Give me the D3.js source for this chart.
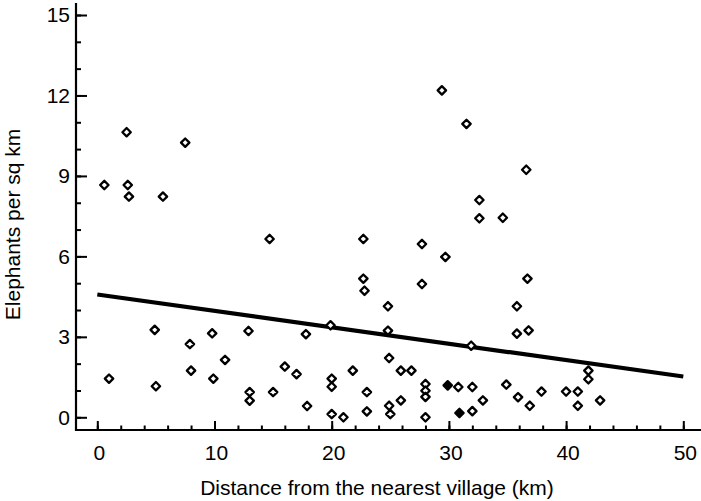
<!DOCTYPE html>
<html>
<head>
<meta charset="utf-8">
<script src="https://cdn.jsdelivr.net/npm/d3@7"></script>
<style>
  html, body { margin: 0; padding: 0; background: #fff; }
  svg { display: block; font-family: "Liberation Sans", Arial, sans-serif; }
</style>
</head>
<body>
<svg id="chart" width="701" height="501"></svg>
<script>
// ---- data ----
const distanceKm = [
  2.5, 7.5, 0.6, 2.6, 2.7, 5.6,
  29.4, 31.5, 36.6, 32.6, 32.6, 34.6,
  1.0, 4.9, 5.0, 7.9, 8.0, 9.8, 9.9, 10.9, 12.9, 13.0, 13.0, 14.7,
  15.0, 16.0, 17.0, 17.8, 17.9, 19.9, 20.0, 20.0, 20.0, 21.0, 21.8,
  22.7, 22.7, 22.8, 23.0, 23.0, 24.8, 24.8, 24.9, 24.9, 25.0,
  27.7, 29.7, 27.7, 25.9, 26.8, 25.9, 28.0, 28.0, 28.0, 28.0,
  30.8, 32.0, 32.0, 31.9, 32.9, 34.9, 35.8, 35.8, 36.8, 36.7,
  35.9, 36.9, 37.9, 40.0, 41.0, 41.0, 41.9, 41.9, 42.9
];
const elephantsPerSqKm = [
  10.63, 10.24, 8.66, 8.66, 8.23, 8.23,
  12.19, 10.94, 9.23, 8.10, 7.42, 7.44,
  1.44, 3.26, 1.16, 2.73, 1.74, 3.13, 1.44, 2.14, 3.22, 0.94, 0.62, 6.65,
  0.94, 1.89, 1.61, 3.10, 0.42, 3.43, 1.44, 1.14, 0.12, 0.00, 1.74,
  6.65, 5.17, 4.72, 0.94, 0.22, 4.14, 3.23, 2.21, 0.43, 0.12,
  6.46, 5.98, 4.97, 1.74, 1.74, 0.63, 1.24, 0.99, 0.76, 0.00,
  1.13, 1.13, 0.23, 2.67, 0.63, 1.22, 4.14, 3.12, 3.24, 5.17,
  0.75, 0.43, 0.96, 0.96, 0.96, 0.43, 1.74, 1.42, 0.63
];
// overlapping (darkened) points
const filledDistanceKm = [29.9, 30.9];
const filledElephants = [1.19, 0.16];
// regression line end points
const fitDistanceKm = [0, 50];
const fitElephants = [4.58, 1.52];

const xMajorTicks = [0, 10, 20, 30, 40, 50];
const xMinorTicks = d3.range(0, 51, 2);
const yMajorTicks = [0, 3, 6, 9, 12, 15];
const yMinorTicks = d3.range(0, 16, 1);

const xTitle = "Distance from the nearest village (km)";
const yTitle = "Elephants per sq km";

// ---- layout ----
const svg = d3.select("#chart");
const axisX = 76, axisY = 430;
const x = d3.scaleLinear().domain([0, 50]).range([97.3, 683.3]);
const y = d3.scaleLinear().domain([0, 15]).range([417.3, 15]);

// axis lines
svg.append("line").attr("x1", axisX).attr("x2", axisX).attr("y1", 3).attr("y2", axisY + 1)
  .attr("stroke", "#000").attr("stroke-width", 2.2);
svg.append("line").attr("x1", axisX - 1).attr("x2", 701).attr("y1", axisY).attr("y2", axisY)
  .attr("stroke", "#000").attr("stroke-width", 2.2);

function styleTicks(g, w) {
  g.select(".domain").remove();
  g.selectAll(".tick line").attr("stroke", "#000").attr("stroke-width", w);
}

// y ticks (pointing inward / right)
svg.append("g").attr("transform", `translate(${axisX},0)`)
  .call(d3.axisRight(y).tickValues(yMinorTicks).tickSize(5).tickFormat(""))
  .call(g => styleTicks(g, 2));
svg.append("g").attr("transform", `translate(${axisX},0)`)
  .call(d3.axisRight(y).tickValues(yMajorTicks).tickSize(11).tickFormat(""))
  .call(g => styleTicks(g, 2));
// y labels
svg.append("g").attr("transform", `translate(${axisX},0)`)
  .call(d3.axisLeft(y).tickValues(yMajorTicks).tickSize(0).tickPadding(6).tickFormat(d3.format("d")))
  .call(g => { g.select(".domain").remove();
    g.selectAll("text").attr("font-size", 21).attr("font-family", "Liberation Sans, Arial, sans-serif").attr("fill", "#000"); });

// x ticks (pointing up)
svg.append("g").attr("transform", `translate(0,${axisY})`)
  .call(d3.axisTop(x).tickValues(xMinorTicks).tickSize(4.5).tickFormat(""))
  .call(g => styleTicks(g, 2));
svg.append("g").attr("transform", `translate(0,${axisY})`)
  .call(d3.axisTop(x).tickValues(xMajorTicks).tickSize(9).tickFormat(""))
  .call(g => styleTicks(g, 2));
// x labels
svg.append("g").attr("transform", `translate(1.5,${axisY})`)
  .call(d3.axisBottom(x).tickValues(xMajorTicks).tickSize(0).tickPadding(15).tickFormat(d3.format("d")))
  .call(g => { g.select(".domain").remove();
    g.selectAll("text").attr("font-size", 21).attr("font-family", "Liberation Sans, Arial, sans-serif").attr("fill", "#000"); });

// titles
svg.append("text").attr("x", 377).attr("y", 495).attr("text-anchor", "middle")
  .attr("font-size", 21).attr("fill", "#000").text(xTitle);
svg.append("text").attr("transform", "translate(20,224.5) rotate(-90)").attr("text-anchor", "middle")
  .attr("font-size", 21).attr("fill", "#000").text(yTitle);

// regression line
const fit = fitDistanceKm.map((d, i) => [d, fitElephants[i]]);
svg.append("path").datum(fit)
  .attr("d", d3.line().x(d => x(d[0])).y(d => y(d[1])))
  .attr("fill", "none").attr("stroke", "#000").attr("stroke-width", 4.2).attr("stroke-linecap", "butt");

// markers
const diamond = "M0,-4.2L4.2,0L0,4.2L-4.2,0Z";
const pts = distanceKm.map((d, i) => [d, elephantsPerSqKm[i]]);
svg.append("g").selectAll("path").data(pts).join("path")
  .attr("d", diamond)
  .attr("transform", d => `translate(${x(d[0])},${y(d[1])})`)
  .attr("fill", "#fff").attr("stroke", "#000").attr("stroke-width", 2.3).attr("stroke-linejoin", "round");
const fpts = filledDistanceKm.map((d, i) => [d, filledElephants[i]]);
svg.append("g").selectAll("path").data(fpts).join("path")
  .attr("d", diamond)
  .attr("transform", d => `translate(${x(d[0])},${y(d[1])})`)
  .attr("fill", "#000").attr("stroke", "#000").attr("stroke-width", 2.3).attr("stroke-linejoin", "round");
</script>
</body>
</html>
